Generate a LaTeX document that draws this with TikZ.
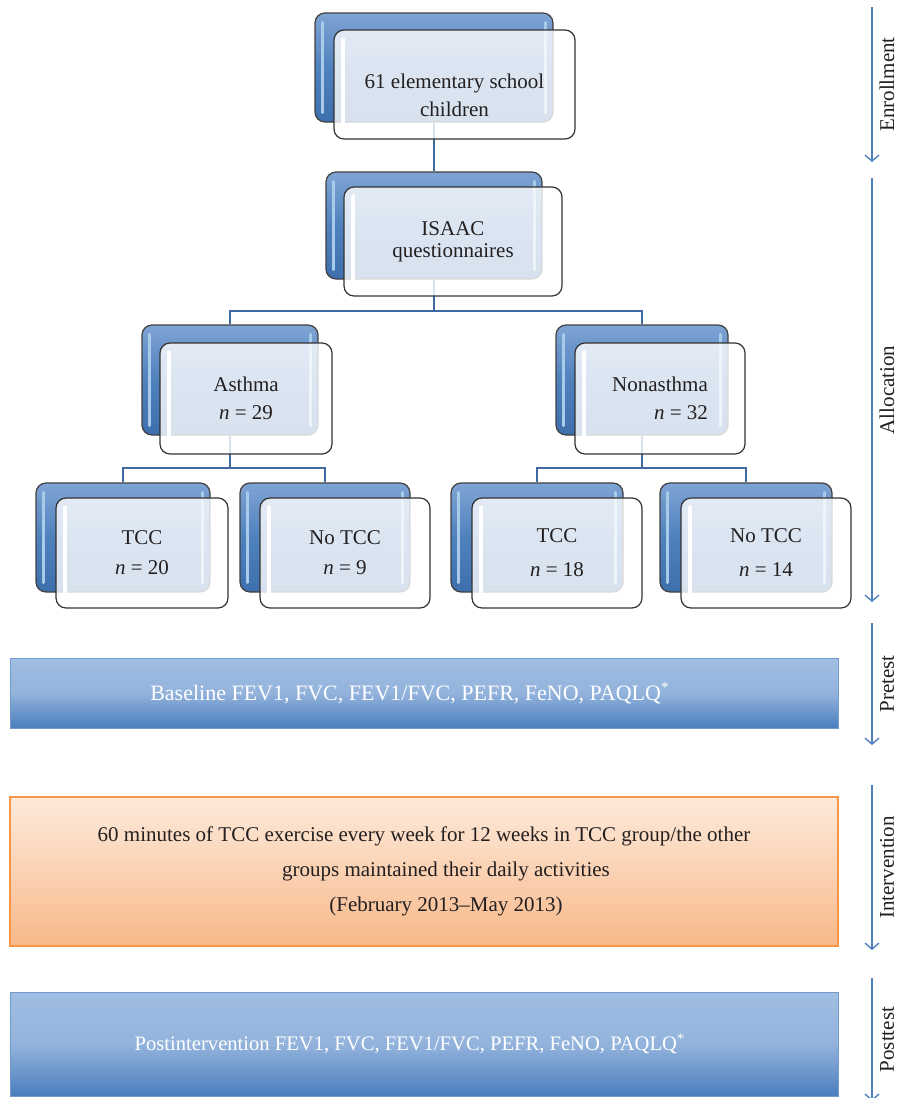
\documentclass[tikz,border=0pt]{standalone}
\usepackage{fontspec}
\setmainfont{Liberation Serif}
\usepackage{tikz}
\usetikzlibrary{arrows.meta,shapes,positioning}
\definecolor{boxblue}{HTML}{4F81BD}
\definecolor{boxbluetop}{HTML}{7FA4D4}
\definecolor{boxbluebot}{HTML}{3E6FAD}
\definecolor{linkblue}{HTML}{3F6AA0}
\definecolor{bandtop}{HTML}{A1BEE3}
\definecolor{bandmid}{HTML}{93B3DC}
\definecolor{bandbot}{HTML}{4A7EBE}
\definecolor{peachtop}{HTML}{FDEADB}
\definecolor{peachbot}{HTML}{F8B98A}
\definecolor{peachline}{HTML}{F79646}
\definecolor{inkgray}{HTML}{231F20}
\definecolor{glint}{HTML}{A8CBEA}
\pgfdeclarelayer{background}
\pgfsetlayers{background,main}
\tikzstyle{backbox}=[rectangle,rounded corners=5pt,draw=black!75,line width=0.6pt,top color=boxbluetop,bottom color=boxbluebot,middle color=boxblue,inner sep=0pt]
\tikzstyle{frontbox}=[rectangle,rounded corners=5pt,draw=black!80,line width=0.6pt,fill=white,fill opacity=0.8,text opacity=1,text=inkgray,align=center,inner sep=0pt,font=\fontsize{10.5}{14}\selectfont]
\tikzstyle{band}=[rectangle,draw=boxblue!80,line width=0.5pt,top color=bandtop,bottom color=bandbot,middle color=bandmid,text=white,minimum width=414pt,align=center,font=\fontsize{11}{14}\selectfont]
\tikzstyle{peachband}=[rectangle,draw=peachline,line width=0.6pt,top color=peachtop,bottom color=peachbot,text=inkgray,minimum width=414pt,align=center,font=\fontsize{10.5}{17.5}\selectfont]
\tikzstyle{link}=[draw=linkblue,line width=0.7pt]
\tikzstyle{phase}=[draw=boxblue,line width=0.7pt,-{Straight Barb[length=3pt,width=7pt]}]
\tikzstyle{phaselabel}=[rotate=90,text=inkgray,inner sep=0pt,font=\fontsize{10.5}{13}\selectfont]
\tikzstyle{glossbar}=[draw=glint,line width=1.5pt,line cap=round]
\tikzstyle{frontgloss}=[draw=white,line width=2pt,line cap=round]

\begin{document}
\begin{tikzpicture}[x=0.5pt,y=-0.5pt]
    \useasboundingbox (0,0) rectangle (898,1098);

    % back boxes
    \foreach \x/\y/\w/\h/\name in {434/67.5/238/109/enroll, 434/225.5/216/107/isaac, 230/380/176/110/asthma, 642/380/172/110/nona, 123/537.5/174/109/tccA, 325/537.5/170/109/notccA, 537/537.5/172/109/tccB, 746/537.5/172/109/notccB}
        \node[backbox, minimum width=\w*0.5pt, minimum height=\h*0.5pt] (\name B) at (\x,\y) {};

    \foreach \name in {enroll, isaac, asthma, nona, tccA, notccA, tccB, notccB} {
        \draw[glossbar] ([xshift=4pt,yshift=-5pt]\name B.north west) -- ([xshift=4pt,yshift=5pt]\name B.south west);
        \draw[glossbar] ([xshift=-4pt,yshift=-5pt]\name B.north east) -- ([xshift=-4pt,yshift=5pt]\name B.south east);
    }

    % front boxes
    \foreach \x/\y/\w/\h/\name/\txt in {454.5/84.5/241/109/enroll/{\rule{0pt}{18pt}61 elementary school\\children}, 453/241.5/218/109/isaac/{ISAAC\\[-3pt]questionnaires}, 246/398.5/172/111/asthma/{Asthma\\\textit{n} = 29}, 660/398.5/170/111/nona/{Nonasthma\\\hspace*{21pt}\textit{n} = 32}, 142/553/172/110/tccA/{TCC\\[1pt]\textit{n} = 20}, 345/553/170/110/notccA/{No TCC\\[1pt]\textit{n} = 9}, 557/553/170/110/tccB/{TCC\\[3pt]\textit{n} = 18}, 766/553/170/110/notccB/{No TCC\\[3pt]\textit{n} = 14}}
        \node[frontbox, minimum width=\w*0.5pt, minimum height=\h*0.5pt] (\name F) at (\x,\y) {\txt};

    \foreach \name in {enroll, isaac, asthma, nona, tccA, notccA, tccB, notccB}
        \draw[frontgloss] ([xshift=5pt,yshift=-5pt]\name F.north west) -- ([xshift=5pt]\name F.north west |- \name B.south);

    % connectors
    \begin{pgfonlayer}{background}
        \coordinate (splitTop) at (434,311);
        \coordinate (splitAsthma) at (230,468);
        \coordinate (splitNona) at (642,468);
        \path[link] (enrollB.south) -- (isaacB.north);
        \path[link] (isaacB.south) -- (splitTop);
        \path[link] (asthmaB.south) -- (splitAsthma);
        \path[link] (nonaB.south) -- (splitNona);
        \foreach \source/\dest in {splitTop/asthmaB, splitTop/nonaB, splitAsthma/tccAB, splitAsthma/notccAB, splitNona/tccBB, splitNona/notccBB}
            \path[link] (\source) -| (\dest.north);
    \end{pgfonlayer}

    % measurement bands
    \node[band, minimum height=35pt] (pretest) at (424,693) {Baseline FEV1, FVC, FEV1/FVC, PEFR, FeNO, PAQLQ\textsuperscript{*}\hspace*{14pt}};
    \node[peachband, minimum height=74.5pt] (intervention) at (424,871.5) {60 minutes of TCC exercise every week for 12 weeks in TCC group/the other\\\hspace*{22pt}groups maintained their daily activities\\\hspace*{22pt}(February 2013--May 2013)};
    \node[band, minimum height=52pt, font=\fontsize{10.3}{14}\selectfont] (posttest) at (424,1044) {Postintervention FEV1, FVC, FEV1/FVC, PEFR, FeNO, PAQLQ\textsuperscript{*}\hspace*{14pt}};

    % phases on the right
    \foreach \ya/\yb/\name/\lbl in {7/162/enroll/Enrollment, 178/602/alloc/Allocation, 623/745/pre/Pretest, 785/950/inter/Intervention, 978/1101/post/Posttest} {
        \coordinate (\name Start) at (872,\ya);
        \coordinate (\name End) at (872,\yb);
        \path[phase] (\name Start) -- (\name End);
        \node[phaselabel] (\name Label) at (887,{(\ya+\yb)/2}) {\lbl};
    }
\end{tikzpicture}
\end{document}
